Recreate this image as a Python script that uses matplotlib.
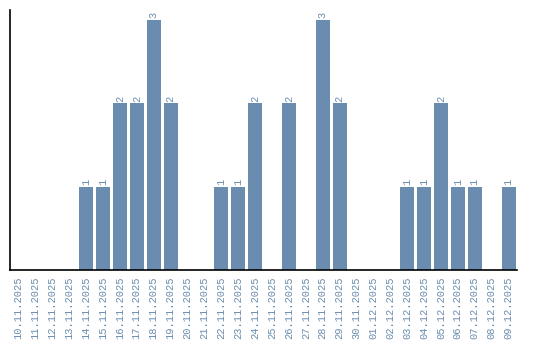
import matplotlib
matplotlib.use("Agg")
import matplotlib.pyplot as plt

# данные
dates = ["10.11.2025", "11.11.2025", "12.11.2025", "13.11.2025", "14.11.2025",
         "15.11.2025", "16.11.2025", "17.11.2025", "18.11.2025", "19.11.2025",
         "20.11.2025", "21.11.2025", "22.11.2025", "23.11.2025", "24.11.2025",
         "25.11.2025", "26.11.2025", "27.11.2025", "28.11.2025", "29.11.2025",
         "30.11.2025", "01.12.2025", "02.12.2025", "03.12.2025", "04.12.2025",
         "05.12.2025", "06.12.2025", "07.12.2025", "08.12.2025", "09.12.2025"]
counts = [0, 0, 0, 0, 1, 1, 2, 2, 3, 2,
          0, 0, 1, 1, 2, 0, 2, 0, 3, 2,
          0, 0, 0, 1, 1, 2, 1, 1, 0, 1]

bar_color = "#6a8cae"
text_color = "#6a8cae"
font = "Liberation Mono"

fig = plt.figure(figsize=(5.4, 3.4), dpi=100)
ax = fig.add_axes([10 / 540, 70 / 340, 507 / 540, 260 / 340])

x = list(range(len(dates)))
bars = ax.bar(x, counts, width=0.83, color=bar_color)

for xi, c in zip(x, counts):
    if c > 0:
        ax.text(xi, c + 0.02, str(c), rotation=90, ha="center", va="bottom",
                fontsize=7.5, color=text_color, family=font)

ax.set_xlim(-0.5, len(dates) - 0.5)
ax.set_ylim(0, 3.12)
ax.set_xticks(x)
ax.set_xticklabels(dates, rotation=90, fontsize=7.5, color=text_color, family=font)
ax.tick_params(axis="x", length=0, pad=5)
ax.set_yticks([])
ax.spines["top"].set_visible(False)
ax.spines["right"].set_visible(False)
ax.spines["left"].set_linewidth(1.2)
ax.spines["bottom"].set_linewidth(1.2)

fig.savefig("out.png", dpi=100)
